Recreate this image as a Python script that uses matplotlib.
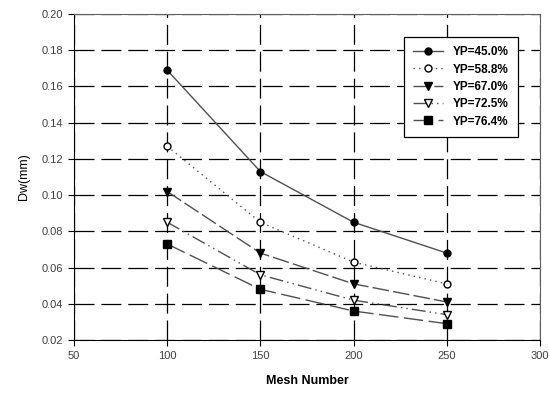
import matplotlib.pyplot as plt

plt.rcParams['font.family'] = ['Liberation Sans', 'DejaVu Sans']

mesh = [100, 150, 200, 250]
yp45 = [0.169, 0.113, 0.085, 0.068]
yp588 = [0.127, 0.085, 0.063, 0.051]
yp67 = [0.102, 0.068, 0.051, 0.041]
yp725 = [0.085, 0.056, 0.042, 0.034]
yp764 = [0.073, 0.048, 0.036, 0.029]
etiquetas = ['YP=45.0%', 'YP=58.8%', 'YP=67.0%', 'YP=72.5%', 'YP=76.4%']

fig = plt.figure(figsize=(5.49, 3.96), dpi=100)
ax = fig.add_axes([0.1348, 0.1414, 0.8488, 0.8232])

cor = '#505050'
ax.plot(mesh, yp45, color=cor, lw=1, ls='-', marker='o', ms=5, mfc='black', mec='black', label=etiquetas[0])
ax.plot(mesh, yp588, color=cor, lw=1, ls=(0, (1, 3)), marker='o', ms=5, mfc='white', mec='black', label=etiquetas[1])
ax.plot(mesh, yp67, color=cor, lw=1, ls=(0, (12, 3)), marker='v', ms=6, mfc='black', mec='black', label=etiquetas[2])
ax.plot(mesh, yp725, color=cor, lw=1, ls=(0, (10, 3, 1, 3, 1, 3)), marker='v', ms=6, mfc='white', mec='black', label=etiquetas[3])
ax.plot(mesh, yp764, color=cor, lw=1, ls=(0, (14, 4)), marker='s', ms=5.5, mfc='black', mec='black', label=etiquetas[4])

ax.set_xlim(50, 300)
ax.set_ylim(0.02, 0.20)
ax.set_xticks([50, 100, 150, 200, 250, 300])
ax.set_yticks([0.02, 0.04, 0.06, 0.08, 0.10, 0.12, 0.14, 0.16, 0.18, 0.20])
ax.set_yticklabels(['%.2f' % v for v in ax.get_yticks()])
ax.grid(True, color='black', ls=(0, (16, 5.5)), lw=0.9)
ax.set_axisbelow(True)
for s in ax.spines.values():
    s.set_color('#606060')
ax.spines['left'].set_color('black')
ax.spines['bottom'].set_color('black')
ax.tick_params(direction='out', length=4, labelsize=8, labelcolor='#404040', pad=4)

ax.set_xlabel('Mesh Number', fontsize=9, fontweight='bold', labelpad=10)
ax.set_ylabel('Dw(mm)', fontsize=9, labelpad=8)

leg = ax.legend(loc='upper left', bbox_to_anchor=(0.708, 0.93), borderaxespad=0, fontsize=8.5,
                frameon=True, fancybox=False, edgecolor='black', framealpha=1, handlelength=2.5,
                borderpad=0.8, labelspacing=0.45)
for t in leg.get_texts():
    t.set_fontweight('bold')
leg.get_frame().set_linewidth(0.9)

plt.savefig('out.png', dpi=100)
